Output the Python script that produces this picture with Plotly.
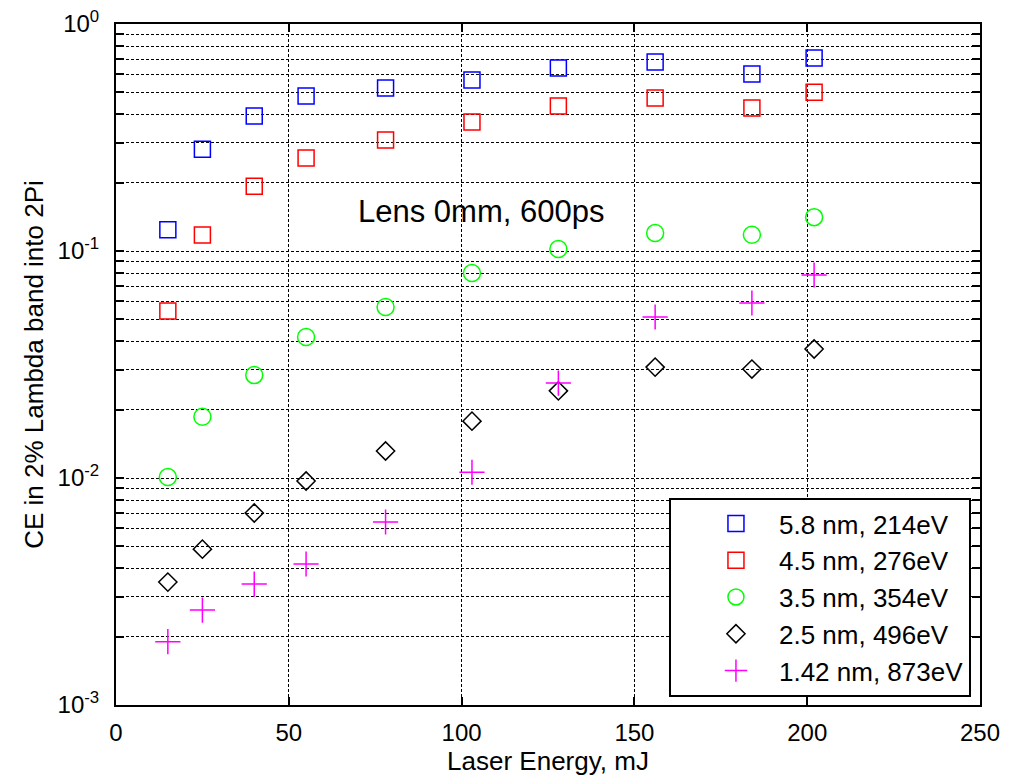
import plotly.graph_objects as go

energy = [15, 25, 40, 55, 78, 103, 128, 156, 184, 202]

ce_58nm = [0.124, 0.281, 0.393, 0.482, 0.523, 0.567, 0.640, 0.680, 0.602, 0.709]
ce_45nm = [0.0544, 0.1176, 0.193, 0.257, 0.308, 0.370, 0.435, 0.472, 0.426, 0.501]
ce_35nm = [0.0101, 0.0186, 0.0284, 0.0418, 0.0567, 0.080, 0.102, 0.120, 0.118, 0.141]
ce_25nm = [0.00348, 0.00486, 0.00701, 0.0097, 0.01315, 0.0178, 0.0242, 0.0308, 0.0302, 0.037]
ce_142nm = [0.0019, 0.00262, 0.00341, 0.00418, 0.0064, 0.0106, 0.0262, 0.0512, 0.059, 0.0784]

series_names = ["5.8 nm, 214eV", "4.5 nm, 276eV", "3.5 nm, 354eV", "2.5 nm, 496eV", "1.42 nm, 873eV"]
series_values = [ce_58nm, ce_45nm, ce_35nm, ce_25nm, ce_142nm]
series_colors = ["#0000FF", "#FF0000", "#00FF00", "#000000", "#FF00FF"]
series_symbols = ["square-open", "square-open", "circle-open", "diamond-open", "cross-thin-open"]
series_sizes = [16, 16, 17, 14, 18]

x_ticks = [0, 50, 100, 150, 200, 250]
y_ticks = [0.001, 0.01, 0.1, 1]
y_ticklabels = ["10<sup>-3</sup>", "10<sup>-2</sup>", "10<sup>-1</sup>", "10<sup>0</sup>"]
y_minor = [m * d for d in [0.001, 0.01, 0.1] for m in range(2, 10)]

FONT = "Liberation Sans, Arial, sans-serif"

fig = go.Figure()
for i, (name, vals, col, sym, sz) in enumerate(zip(series_names, series_values, series_colors, series_symbols, series_sizes)):
    fig.add_trace(go.Scatter(
        x=energy, y=vals, mode="markers", name=name, legendgroup=f"g{i}",
        marker=dict(symbol=sym, size=sz, color=col, line=dict(color=col, width=1.5)),
    ))

grid_dash = "3px,2px"
fig.update_layout(
    width=1016, height=779,
    margin=dict(l=108, r=44, t=16, b=82),
    paper_bgcolor="white", plot_bgcolor="white",
    font=dict(family=FONT, size=26, color="black"),
    showlegend=True,
    legend=dict(
        x=0.640, y=0.304, xanchor="left", yanchor="top",
        bgcolor="white", bordercolor="black", borderwidth=2,
        font=dict(size=26), tracegroupgap=0, traceorder="grouped",
        itemwidth=76, indentation=22,
    ),
    annotations=[dict(
        text="Lens 0mm, 600ps", x=0.423, y=0.724, xref="paper", yref="paper",
        showarrow=False, font=dict(size=31, family=FONT), xanchor="center", yanchor="middle",
    )],
)
fig.update_xaxes(
    range=[0, 250], tickvals=x_ticks, ticks="inside", ticklen=8, tickwidth=1.5, tickcolor="black",
    showline=True, linecolor="black", linewidth=2, mirror="ticks",
    showgrid=True, gridcolor="black", gridwidth=1, griddash=grid_dash,
    zeroline=False, ticklabelstandoff=5, ticklabeloverflow="allow", automargin=False,
    tickfont=dict(size=24),
    title=dict(text="Laser Energy, mJ", font=dict(size=26), standoff=6),
)
fig.update_yaxes(
    type="log", range=[-3, 0], tickvals=y_ticks, ticktext=y_ticklabels,
    ticks="inside", ticklen=8, tickwidth=1.5, tickcolor="black",
    showline=True, linecolor="black", linewidth=2, mirror="ticks",
    showgrid=True, gridcolor="black", gridwidth=1, griddash=grid_dash,
    minor=dict(tickvals=y_minor, ticks="inside", ticklen=8, tickwidth=1.5, tickcolor="black",
               showgrid=True, gridcolor="black", gridwidth=1, griddash=grid_dash),
    zeroline=False, ticklabelstandoff=10, ticklabeloverflow="allow", automargin=False,
    tickfont=dict(size=24),
    title=dict(text="CE in 2% Lambda band into 2Pi", font=dict(size=26), standoff=6),
)

fig.write_html("out.html")
